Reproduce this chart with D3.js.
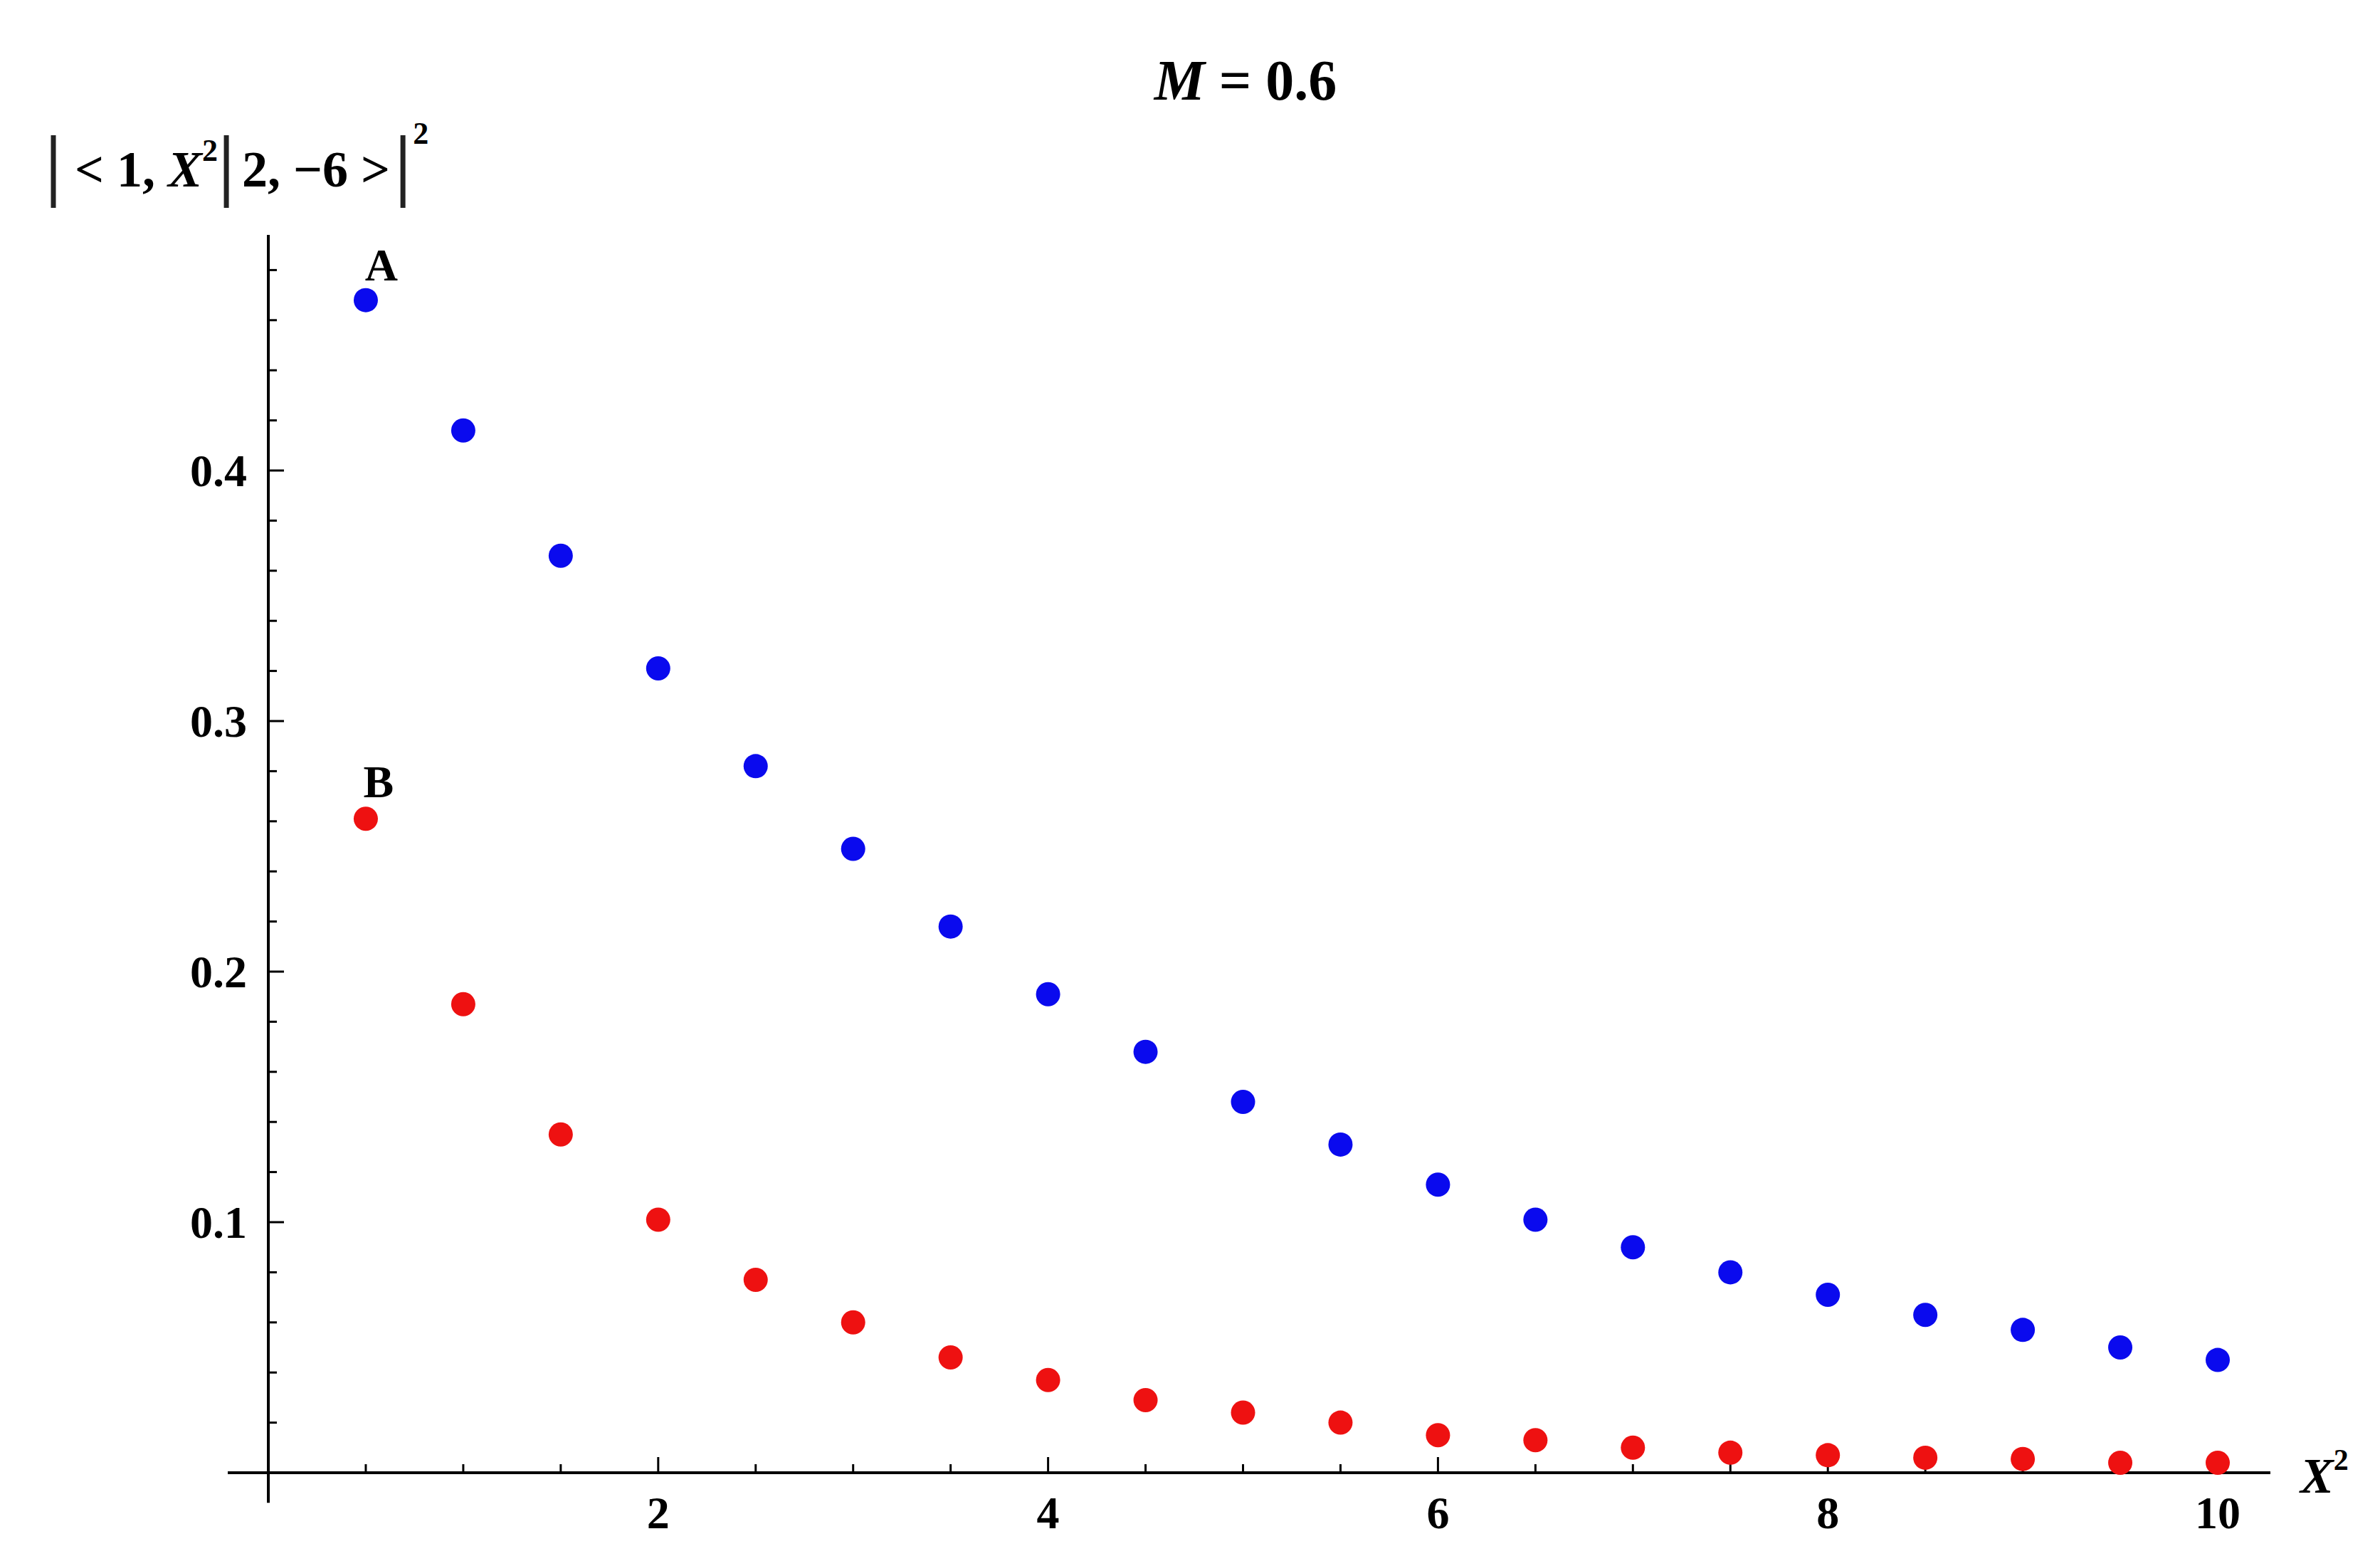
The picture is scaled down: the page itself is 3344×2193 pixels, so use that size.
<!DOCTYPE html>
<html><head><meta charset="utf-8">
<script src="https://cdn.jsdelivr.net/npm/d3@7"></script>
<style>body{margin:0;background:#fff}text{font-family:"Liberation Serif","Times New Roman",serif;font-weight:bold}</style>
</head><body>
<script>
const xs = [0.5,1,1.5,2,2.5,3,3.5,4,4.5,5,5.5,6,6.5,7,7.5,8,8.5,9,9.5,10];
const seriesA = [0.468,0.416,0.366,0.321,0.282,0.249,0.218,0.191,0.168,0.148,0.131,0.115,0.101,0.090,0.080,0.071,0.063,0.057,0.050,0.045];
const seriesB = [0.261,0.187,0.135,0.101,0.077,0.060,0.046,0.037,0.029,0.024,0.020,0.015,0.013,0.010,0.008,0.007,0.006,0.0055,0.004,0.004];
const xTicks = [2,4,6,8,10];
const yTicks = [0.1,0.2,0.3,0.4];

const W = 3344, H = 2193;
const svg = d3.select("body").append("svg").attr("width", W).attr("height", H);
const x = d3.scaleLinear().domain([0, 10]).range([377, 3116]);
const y = d3.scaleLinear().domain([0, 0.1]).range([2069, 1717]);

// axes
const g = svg.append("g").attr("stroke", "#000");
g.append("line").attr("x1", 320).attr("x2", x(10.27)).attr("y1", y(0)).attr("y2", y(0)).attr("stroke-width", 4);
g.append("line").attr("x1", x(0)).attr("x2", x(0)).attr("y1", y(0.494)).attr("y2", y(-0.012)).attr("stroke-width", 4);

d3.range(0.5, 10.01, 0.5).forEach(v => {
  const major = xTicks.includes(v);
  g.append("line").attr("x1", x(v)).attr("x2", x(v)).attr("y1", y(0)).attr("y2", y(0) - (major ? 22 : 12)).attr("stroke-width", 3);
});
d3.range(0.02, 0.4801, 0.02).forEach(v => {
  const major = yTicks.some(t => Math.abs(t - v) < 1e-6);
  g.append("line").attr("x1", x(0)).attr("x2", x(0) + (major ? 22 : 12)).attr("y1", y(v)).attr("y2", y(v)).attr("stroke-width", 3);
});

svg.selectAll(".xt").data(xTicks).enter().append("text")
  .attr("x", d => x(d)).attr("y", y(0) + 78).attr("text-anchor", "middle").attr("font-size", 64).text(d => d);
svg.selectAll(".yt").data(yTicks).enter().append("text")
  .attr("x", x(0) - 30).attr("y", d => y(d) + 22).attr("text-anchor", "end").attr("font-size", 64).text(d => d.toFixed(1));

const draw = (vals, color) => svg.append("g").selectAll("circle").data(vals).enter().append("circle")
  .attr("cx", (d, i) => x(xs[i])).attr("cy", d => y(d)).attr("r", 17).attr("fill", color);
draw(seriesA, "#0a0aee");
draw(seriesB, "#ee1111");

svg.append("text").attr("x", x(xs[0]) + 22).attr("y", y(seriesA[0]) - 28).attr("text-anchor", "middle").attr("font-size", 64).text("A");
svg.append("text").attr("x", x(xs[0]) + 18).attr("y", y(seriesB[0]) - 30).attr("text-anchor", "middle").attr("font-size", 64).text("B");

const t = svg.append("text").attr("x", 1750).attr("y", 140).attr("text-anchor", "middle").attr("font-size", 80);
t.append("tspan").attr("font-style", "italic").text("M");
t.append("tspan").text(" = 0.6");

const xl = svg.append("text").attr("x", 3232).attr("y", 2097).attr("font-size", 70).attr("font-weight", "normal").attr("font-style", "italic");
xl.append("tspan").text("X");
xl.append("tspan").attr("font-size", 42).attr("dy", -32).attr("font-style", "normal").text("2");

// y label: |< 1, X² | 2, −6 >|²
const yl = svg.append("g");
const bar = lx => yl.append("line").attr("x1", lx).attr("x2", lx).attr("y1", 190).attr("y2", 292)
  .attr("stroke", "#222").attr("stroke-width", 7);
bar(75);
const p1 = yl.append("text").attr("x", 105).attr("y", 262).attr("font-size", 72).attr("font-weight", "normal");
p1.append("tspan").text("< 1, ");
p1.append("tspan").attr("font-style", "italic").text("X");
p1.append("tspan").attr("font-size", 44).attr("dy", -36).text("2");
const e1 = 105 + p1.node().getComputedTextLength() + 12;
bar(e1);
const p2 = yl.append("text").attr("x", e1 + 22).attr("y", 262).attr("font-size", 72).attr("font-weight", "normal").text("2, \u22126 >");
const e2 = e1 + 22 + p2.node().getComputedTextLength() + 18;
bar(e2);
yl.append("text").attr("x", e2 + 14).attr("y", 202).attr("font-size", 44).attr("font-weight", "normal").text("2");
</script>
</body></html>
